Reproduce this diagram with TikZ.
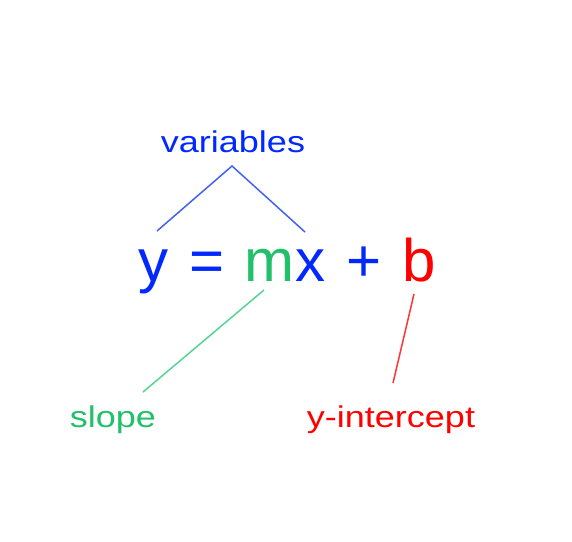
\documentclass[tikz,border=0pt]{standalone}
\usepackage{fontspec}
\setmainfont{Liberation Sans}
\newfontfamily\lblfont{Liberation Sans}[FakeStretch=1.2]
\newfontfamily\eqfont{Liberation Sans}
\usetikzlibrary{positioning}
\definecolor{azul}{HTML}{0028FF}
\definecolor{verde}{HTML}{22C06A}
\definecolor{rojo}{HTML}{FF0000}
\definecolor{azulclaro}{HTML}{4462F2}
\definecolor{verdeclaro}{HTML}{55D494}
\definecolor{rojoclaro}{HTML}{FF3535}

\begin{document}
\begin{tikzpicture}[
  x=1pt, y=-1pt,
  glifo/.style={anchor=base, inner sep=0pt, font=\eqfont\fontsize{60}{66}\selectfont},
  etiqueta/.style={anchor=base, inner sep=0pt, font=\lblfont\fontsize{30}{36}\selectfont},
  raya/.style={line width=1.5pt}
]
\useasboundingbox[fill=white] (0,0) rectangle (572,541);

% la ecuacion
\node[glifo, text=azul] (gy) at (153,281) {y};
\node[glifo, text=azul] (geq) at (207,281) {=};
\node[glifo, text=verde] (gm) at (269,281) {m};
\node[glifo, text=azul] (gx) at (310,281) {x};
\node[glifo, text=azul] (gplus) at (364,281) {+};
\node[glifo, text=rojo] (gb) at (419,281) {b};

% etiquetas
\node[etiqueta, text=azul] (variables) at (233,152) {variables};
\node[etiqueta, text=verde] (slope) at (113,427) {slope};
\node[etiqueta, text=rojo] (intercept) at (391,427) {y-intercept};

% puntos de union
\coordinate (cima) at (232,166);
\coordinate (pie y) at (157,231);
\coordinate (pie x) at (305,232);
\coordinate (pie m) at (264,290);
\coordinate (pie slope) at (143,392);
\coordinate (pie b) at (414,294);
\coordinate (pie int) at (393,383);

\draw[raya, azulclaro] (pie y) -- (cima) -- (pie x);
\draw[raya, verdeclaro] (pie m) -- (pie slope);
\draw[raya, rojoclaro] (pie b) -- (pie int);
\end{tikzpicture}
\end{document}
